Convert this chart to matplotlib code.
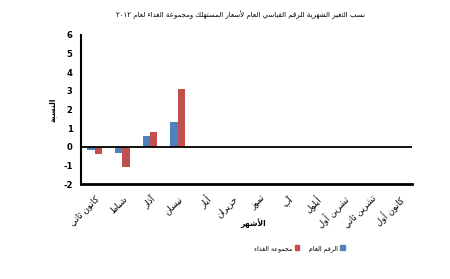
import re
import numpy as np
import matplotlib
matplotlib.use('Agg')
import matplotlib.pyplot as plt
from matplotlib.patches import Patch

# monthly change (%) for 2012, only Jan-Apr published
months = ['كانون ثاني', 'شباط', 'آذار', 'نيسان', 'أيار', 'حزيران',
          'تموز', 'آب', 'أيلول', 'تشرين أول', 'تشرين ثاني', 'كانون أول']
general_index = [-0.15, -0.35, 0.6, 1.35]
food_group = [-0.4, -1.1, 0.8, 3.1]

title = 'نسب التغير الشهرية للرقم القياسي العام لأسعار المستهلك ومجموعة الغذاء لعام ٢٠١٢'
ylabel = 'النسبة'
xlabel = 'الأشهر'
label_general = 'الرقم العام'
label_food = 'مجموعة الغذاء'

# minimal arabic shaping (matplotlib has no bidi / joining support)
DUAL = {'ب': 0xFE8F, 'ت': 0xFE95, 'ث': 0xFE99, 'ج': 0xFE9D, 'ح': 0xFEA1,
        'خ': 0xFEA5, 'س': 0xFEB1, 'ش': 0xFEB5, 'ص': 0xFEB9, 'ض': 0xFEBD,
        'ط': 0xFEC1, 'ظ': 0xFEC5, 'ع': 0xFEC9, 'غ': 0xFECD, 'ف': 0xFED1,
        'ق': 0xFED5, 'ك': 0xFED9, 'ل': 0xFEDD, 'م': 0xFEE1, 'ن': 0xFEE5,
        'ه': 0xFEE9, 'ي': 0xFEF1}
RIGHT = {'آ': 0xFE81, 'أ': 0xFE83, 'ا': 0xFE8D, 'ة': 0xFE93, 'د': 0xFEA9,
         'ذ': 0xFEAB, 'ر': 0xFEAD, 'ز': 0xFEAF, 'و': 0xFEED, 'ى': 0xFEEF}
LAMALEF = {'آ': 0xFEF5, 'أ': 0xFEF7, 'ا': 0xFEFB}


def ar(text):
    out = []
    i = 0
    n = len(text)
    while i < n:
        c = text[i]
        cp = i > 0 and text[i - 1] in DUAL
        if c == 'ل' and i + 1 < n and text[i + 1] in LAMALEF:
            out.append(chr(LAMALEF[text[i + 1]] + (1 if cp else 0)))
            i += 2
            continue
        if c in DUAL:
            cn = i + 1 < n and (text[i + 1] in DUAL or text[i + 1] in RIGHT)
            off = 3 if (cp and cn) else 1 if cp else 2 if cn else 0
            out.append(chr(DUAL[c] + off))
        elif c in RIGHT:
            out.append(chr(RIGHT[c] + (1 if cp else 0)))
        else:
            out.append(c)
        i += 1
    parts = re.findall(r'[0-9\u0660-\u0669]+|[^0-9\u0660-\u0669]', ''.join(out))
    return ''.join(reversed(parts))


plt.rcParams['font.family'] = ['DejaVu Sans']

blue = '#4F81BD'
red = '#C0504D'

fig = plt.figure(figsize=(4.5, 2.79), dpi=100)
ax = fig.add_axes([0.18, 0.34, 0.736, 0.535])

x = np.arange(len(months))
w = 0.27
n = len(general_index)
ax.bar(x[:n] - w / 2, general_index, w, color=blue)
ax.bar(x[:n] + w / 2, food_group, w, color=red)

ax.axhline(0, color='black', lw=1.3)
ax.set_xlim(-0.5, len(months) - 0.5)
ax.set_ylim(-2, 6)
ax.set_yticks(range(-2, 7))
ax.set_yticklabels([str(v) for v in range(-2, 7)], fontsize=6, fontweight='bold')
ax.set_xticks(x)
ax.set_xticklabels([ar(m) for m in months], rotation=45, ha='right',
                   rotation_mode='anchor', fontsize=6.3)
ax.tick_params(axis='both', length=0)
ax.tick_params(axis='x', pad=7)
ax.tick_params(axis='y', pad=6)

for s in ['top', 'right']:
    ax.spines[s].set_visible(False)
ax.spines['left'].set_linewidth(1.5)
ax.spines['bottom'].set_linewidth(2.0)

ax.set_ylabel(ar(ylabel), fontsize=5.5, fontweight='bold', labelpad=5)
fig.text(0.562, 0.2, ar(xlabel), fontsize=5.5, fontweight='bold', ha='center', va='center')
fig.text(0.535, 0.948, ar(title), fontsize=5, ha='center', va='center')

handles = [Patch(color=red, label=ar(label_food)),
           Patch(color=blue, label=ar(label_general))]
fig.legend(handles=handles, loc='center', bbox_to_anchor=(0.665, 0.11), ncol=2,
           frameon=False, fontsize=4.6, markerfirst=False, handlelength=0.7,
           handleheight=0.7, columnspacing=1.5, handletextpad=0.4)

fig.savefig('out.png', dpi=100, facecolor='white')
